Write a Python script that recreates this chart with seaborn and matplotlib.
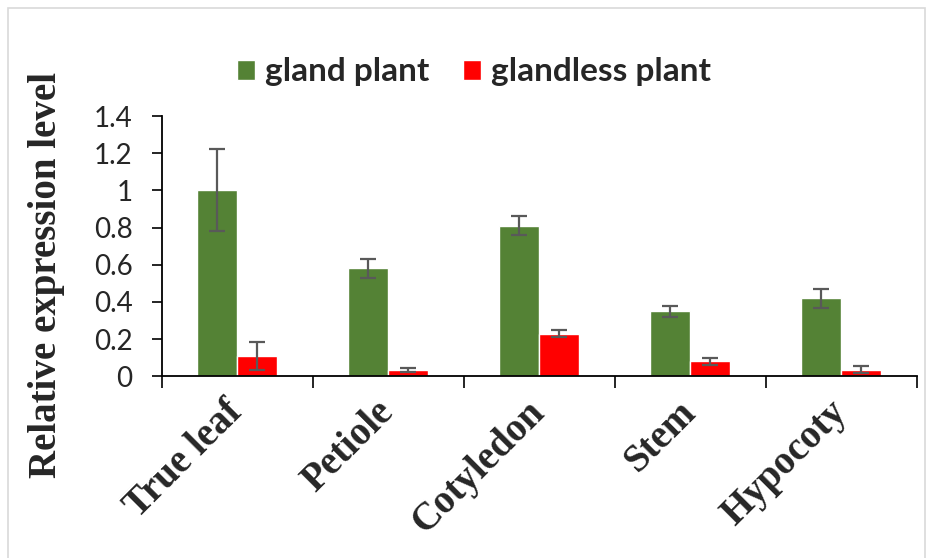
import pandas as pd
import seaborn as sns
import matplotlib.pyplot as plt
from matplotlib.patches import Rectangle

# values
tissues = ["True leaf", "Petiole", "Cotyledon", "Stem", "Hypocoty"]
gland = [1.00, 0.58, 0.81, 0.35, 0.42]
gland_err = [0.22, 0.05, 0.05, 0.03, 0.05]
glandless = [0.11, 0.035, 0.23, 0.08, 0.035]
glandless_err = [0.075, 0.012, 0.02, 0.02, 0.018]
series = ["gland plant", "glandless plant"]
colors = ["#548235", "#FF0000"]
yticks = [0, 0.2, 0.4, 0.6, 0.8, 1, 1.2, 1.4]

df = pd.DataFrame({
    "tissue": tissues * 2,
    "level": gland + glandless,
    "plant": [series[0]] * 5 + [series[1]] * 5,
})

sns.set_style("white")
fig = plt.figure(figsize=(9.33, 5.58), dpi=100)
ax = fig.add_axes([0.1733, 0.3256, 0.8092, 0.4665])

sns.barplot(data=df, x="tissue", y="level", hue="plant", order=tissues,
            hue_order=series, palette=colors, width=0.53, errorbar=None,
            saturation=1, ax=ax)

# error bars at the centres of the bars seaborn drew
for cont, errs in zip(ax.containers, [gland_err, glandless_err]):
    xs = [p.get_x() + p.get_width() / 2 for p in cont.patches]
    hs = [p.get_height() for p in cont.patches]
    ax.errorbar(xs, hs, yerr=errs, fmt="none", ecolor="#595959",
                elinewidth=1.6, capsize=5.5, capthick=1.6, zorder=5)

ax.set_ylim(0, 1.4)
ax.set_xlim(-0.5, 4.5)
ax.set_yticks(yticks)
ax.set_yticklabels(["0", "0.2", "0.4", "0.6", "0.8", "1", "1.2", "1.4"],
                   fontsize=20, family=["Lato", "DejaVu Sans"])
ax.tick_params(axis="y", direction="out", length=7, width=1.2, pad=14,
               left=True, color="black")
ax.set_xticks(range(len(tissues)))
ax.set_xticks([i - 0.5 for i in range(len(tissues) + 1)], minor=True)
ax.tick_params(axis="x", which="major", length=0, pad=22)
ax.tick_params(axis="x", which="minor", direction="out", length=8.5,
               width=1.2, bottom=True, color="black")
ax.set_xticklabels(tissues, rotation=45, rotation_mode="anchor", ha="right",
                   va="center", fontsize=28, fontweight="bold",
                   family="Liberation Serif")
ax.set_xlabel("")
ax.set_ylabel("")
for side in ["top", "right"]:
    ax.spines[side].set_visible(False)
for side in ["left", "bottom"]:
    ax.spines[side].set_color("black")
    ax.spines[side].set_linewidth(1.3)

handles, labels = ax.get_legend_handles_labels()
ax.legend(handles, labels, loc="center", bbox_to_anchor=(474 / 933, 1 - 72 / 558),
          bbox_transform=fig.transFigure, ncol=2, frameon=False,
          prop={"family": "Lato", "weight": "bold", "size": 24},
          handlelength=0.55, handleheight=0.55, handletextpad=0.3,
          columnspacing=1.0)

fig.text(47 / 933, 1 - 275 / 558, "Relative expression level", rotation=90,
         ha="center", va="center", fontsize=28, fontweight="bold",
         family="Liberation Serif")

# light chart-area border
fig.patches.append(Rectangle((8 / 933, -0.02), 917 / 933, 1 - 8 / 558 + 0.02,
                             transform=fig.transFigure, fill=False,
                             edgecolor="#D9D9D9", linewidth=1.2))

fig.savefig("out.png", dpi=100)
